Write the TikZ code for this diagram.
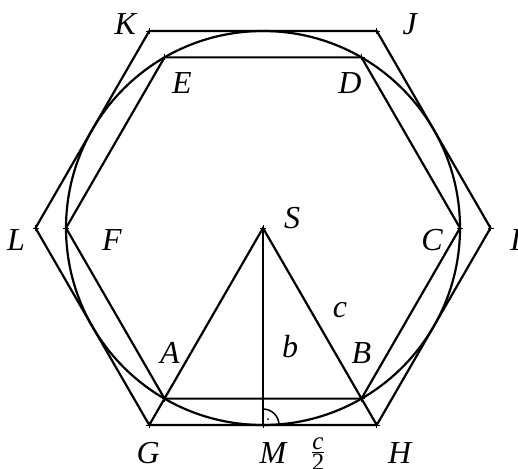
\documentclass[tikz,border=0pt]{standalone}
\usepackage{fontspec}
\setmainfont{Liberation Serif}

\begin{document}
\begin{tikzpicture}[
  x=0.5pt, y=0.5pt,
  edge/.style={line width=1.1pt, black, line join=miter},
  ptmark/.style={line width=0.4pt, black},
  lbl/.style={font=\fontsize{16}{18}\selectfont\itshape, inner sep=0pt},
  half/.style={font=\fontsize{12.5}{13}\selectfont, inner sep=0pt},
]
\useasboundingbox (0,0) rectangle (518,468);

% centre, inscribed and circumscribed hexagons
\coordinate (S) at (263,240);
\foreach \n/\a in {C/0, D/60, E/120, F/180, A/240, B/300}
  \coordinate (\n) at ([shift={(\a:197)}]S);
\foreach \n/\a in {I/0, J/60, K/120, L/180, G/240, H/300}
  \coordinate (\n) at ([shift={(\a:227.5)}]S);
\coordinate (M) at ([shift={(270:197)}]S);

\draw[edge] (S) circle[radius=197];
\draw[edge] (A) -- (B) -- (C) -- (D) -- (E) -- (F) -- cycle;
\draw[edge] (G) -- (H) -- (I) -- (J) -- (K) -- (L) -- cycle;
\draw[edge] (G) -- (S) -- (H);
\draw[edge] (S) -- (M);

% right angle at M
\draw[line width=0.75pt] ([shift={(16,0)}]M) arc[start angle=0, end angle=90, radius=16];
\fill ([shift={(5,6)}]M) circle[radius=1];

% small point marks
\foreach \p in {A,B,C,D,E,F,G,H,I,J,K,L,M,S}
  \draw[ptmark] ([shift={(-3,0)}]\p) -- ([shift={(3,0)}]\p)
                ([shift={(0,-3)}]\p) -- ([shift={(0,3)}]\p);

% labels
\node[lbl] (lK) at ([shift={(-24,7)}]K) {K};
\node[lbl] (lJ) at ([shift={(33,7)}]J) {J};
\node[lbl] (lE) at ([shift={(17.5,-26)}]E) {E};
\node[lbl] (lD) at ([shift={(-11.5,-26)}]D) {D};
\node[lbl] (lL) at ([shift={(-19.5,-12)}]L) {L};
\node[lbl] (lF) at ([shift={(46,-12)}]F) {F};
\node[lbl] (lC) at ([shift={(-28,-12)}]C) {C};
\node[lbl] (lI) at ([shift={(25,-12)}]I) {I};
\node[lbl] (lS) at ([shift={(29,10)}]S) {S};
\node[lbl] (lc) at ([shift={(77,-82)}]S) {c};
\node[lbl] (lb) at ([shift={(27,78)}]M) {b};
\node[lbl] (lA) at ([shift={(5.5,46)}]A) {A};
\node[lbl] (lB) at ([shift={(0,46)}]B) {B};
\node[lbl] (lG) at ([shift={(-1,-28)}]G) {G};
\node[lbl] (lM) at ([shift={(10,-28)}]M) {M};
\node[lbl] (lH) at ([shift={(23,-28)}]H) {H};
\node[half] (lhalf) at ([shift={(55,-29)}]M) {$\frac{\mbox{\itshape c}}{\mbox{2}}$};
\end{tikzpicture}
\end{document}
